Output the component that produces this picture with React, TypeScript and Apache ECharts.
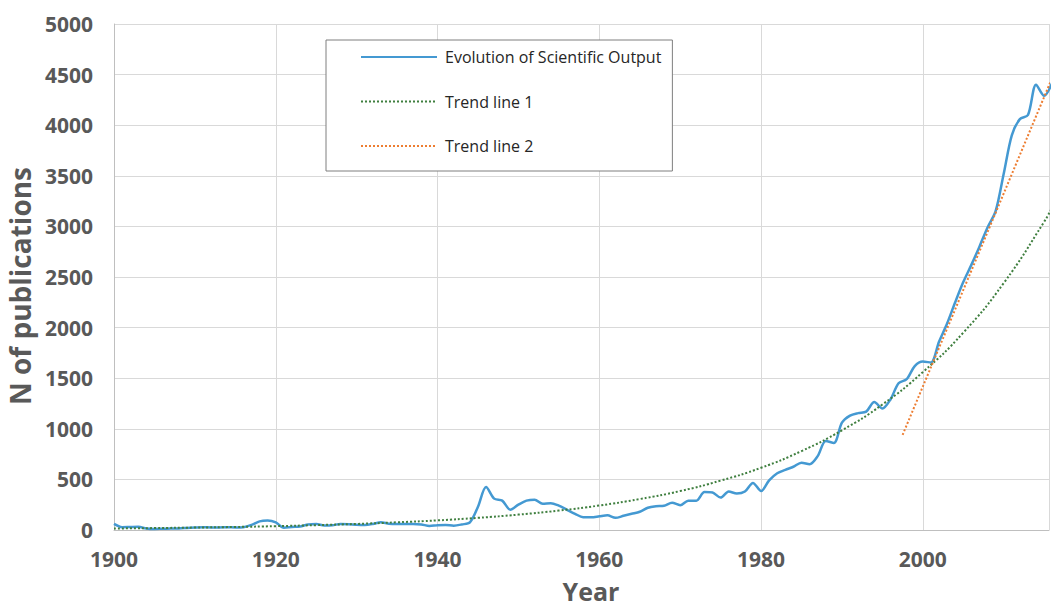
import React, { useEffect, useRef } from 'react';
import * as echarts from 'echarts';

const START_YEAR = 1900;
// Annual number of publications, 1900 .. 2016
const outputValues = [
  60, 28, 30, 32, 15, 10, 12, 14, 16, 20,
  24, 27, 25, 25, 28, 25, 28, 50, 85, 93,
  75, 22, 30, 35, 55, 60, 45, 47, 60, 58,
  52, 50, 60, 77, 62, 60, 60, 60, 55, 40,
  48, 50, 43, 55, 75, 230, 425, 310, 290, 200,
  250, 290, 300, 260, 265, 240, 200, 160, 125, 125,
  135, 145, 120, 140, 160, 180, 220, 235, 240, 270,
  245, 290, 290, 375, 370, 320, 380, 360, 380, 465,
  385, 490, 560, 595, 625, 665, 650, 730, 880, 860,
  1060, 1130, 1155, 1170, 1265, 1200, 1290, 1450, 1490, 1620,
  1665, 1655, 1860, 2040, 2250, 2450, 2620, 2800, 2990, 3150,
  3520, 3900, 4060, 4100, 4400, 4290, 4420,
];

// Trend line 1 (exponential), read at 5-year steps
const trend1Years = [1900, 1905, 1910, 1915, 1920, 1925, 1930, 1935, 1940, 1945, 1950, 1955, 1960, 1965, 1970, 1975, 1980, 1985, 1990, 1995, 2000, 2005, 2010, 2015, 2016];
const trend1Values = [15, 19, 24, 30, 38, 48, 60, 76, 95, 120, 152, 192, 242, 306, 385, 488, 615, 780, 985, 1240, 1560, 1950, 2440, 3045, 3190];

// Trend line 2 (linear)
const trend2Years = [1997.5, 2016];
const trend2Values = [940, 4470];

const seriesNames = ['Evolution of Scientific Output', 'Trend line 1', 'Trend line 2'];
const yTicks = { min: 0, max: 5000, interval: 500 };
const xTicks = { min: 1900, max: 2015.6, interval: 20 };

export default function App() {
  const ref = useRef<HTMLDivElement>(null);

  useEffect(() => {
    if (!ref.current) return;
    const chart = echarts.init(ref.current, undefined, { renderer: 'svg' });
    const labelStyle = {
      fontFamily: 'Open Sans',
      fontWeight: 'bold' as const,
      fontSize: 21,
      color: '#595959',
    };
    chart.setOption({
      animation: false,
      backgroundColor: '#ffffff',
      grid: { left: 114, right: 0, top: 24, bottom: 80, containLabel: false },
      xAxis: {
        type: 'value',
        min: xTicks.min,
        max: xTicks.max,
        interval: xTicks.interval,
        axisLine: { show: true, lineStyle: { color: '#bfbfbf', width: 1 } },
        axisTick: { show: false },
        axisLabel: {
          ...labelStyle,
          margin: 18,
          formatter: (v: number) => (Math.abs(v % 20) < 1e-6 ? String(v) : ''),
        },
        splitLine: { show: true, lineStyle: { color: '#d9d9d9', width: 1 } },
      },
      yAxis: {
        type: 'value',
        min: yTicks.min,
        max: yTicks.max,
        interval: yTicks.interval,
        axisLine: { show: true, lineStyle: { color: '#bfbfbf', width: 1 } },
        axisTick: { show: false },
        axisLabel: { ...labelStyle, margin: 21, formatter: (v: number) => String(v) },
        splitLine: { show: true, lineStyle: { color: '#d9d9d9', width: 1 } },
      },
      legend: {
        data: seriesNames,
        orient: 'vertical',
        left: 326,
        top: 40,
        itemWidth: 76,
        itemHeight: 16,
        itemGap: 28.5,
        padding: [9, 11, 17, 34],
        borderColor: '#7f7f7f',
        borderWidth: 1,
        backgroundColor: '#ffffff',
        itemStyle: { opacity: 0 },
        textStyle: { fontFamily: 'Open Sans', fontSize: 16, color: '#262626', padding: [0, 0, 0, 3] },
      },
      series: [
        {
          name: seriesNames[0],
          type: 'line',
          smooth: 0.3,
          showSymbol: false,
          symbol: 'none',
          lineStyle: { color: '#4499d2', width: 2.5 },
          itemStyle: { color: '#4499d2' },
          data: outputValues.map((v, i) => [START_YEAR + i, v]),
          z: 3,
        },
        {
          name: seriesNames[1],
          type: 'line',
          smooth: true,
          showSymbol: false,
          symbol: 'none',
          lineStyle: { color: '#3f7f3f', width: 2, type: [2, 2] },
          itemStyle: { color: '#3f7f3f' },
          data: trend1Years.map((y, i) => [y, trend1Values[i]]),
          z: 4,
        },
        {
          name: seriesNames[2],
          type: 'line',
          showSymbol: false,
          symbol: 'none',
          lineStyle: { color: '#ed7d31', width: 2, type: [2, 2] },
          itemStyle: { color: '#ed7d31' },
          data: trend2Years.map((y, i) => [y, trend2Values[i]]),
          z: 4,
        },
      ],
      graphic: [
        {
          type: 'text',
          x: 20,
          y: 286,
          rotation: Math.PI / 2,
          style: {
            text: 'N of publications',
            fontFamily: 'Open Sans',
            fontWeight: 'bold',
            fontSize: 28,
            fill: '#595959',
            align: 'center',
            verticalAlign: 'middle',
          },
        },
        {
          type: 'text',
          x: 591,
          y: 591,
          style: {
            text: 'Year',
            fontFamily: 'Open Sans',
            fontWeight: 'bold',
            fontSize: 25,
            fill: '#595959',
            align: 'center',
            verticalAlign: 'middle',
          },
        },
      ],
    });
    return () => chart.dispose();
  }, []);

  return (
    <div
      ref={ref}
      style={{ position: 'absolute', left: 0, top: 0, width: 1052, height: 610 }}
    />
  );
}
